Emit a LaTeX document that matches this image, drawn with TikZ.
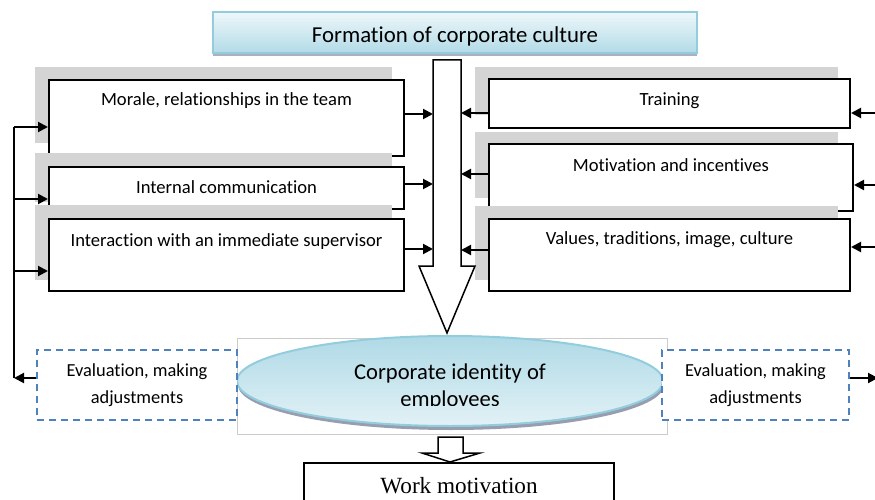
\documentclass[tikz,border=0pt]{standalone}
\usepackage{fontspec}
\setmainfont{Carlito}[Ligatures=NoCommon]
\newfontfamily\timesfont{Liberation Serif}
\usetikzlibrary{arrows.meta,shadows,shapes.geometric}

\definecolor{frameblue}{RGB}{147,205,221}
\definecolor{lightblue}{RGB}{178,219,231}
\definecolor{paleblue}{RGB}{238,247,250}
\definecolor{evalblue}{RGB}{79,129,189}
\definecolor{panelgray}{RGB}{212,212,212}
\definecolor{shadowgray}{RGB}{150,158,176}

\tikzset{
  box/.style={draw, line width=2pt, fill=white, inner xsep=4pt, inner ysep=0pt,
    anchor=north west, font=\fontsize{18.6}{22}\selectfont},
  panel/.style={fill=panelgray},
  conn/.style={line width=2pt, -{Triangle[length=10pt,width=10pt]}},
  evalbox/.style={draw=evalblue, line width=2.2pt, dash pattern=on 7pt off 5pt,
    fill=white, align=center, inner sep=0pt, minimum height=70pt,
    font=\fontsize{18.4}{27}\selectfont},
  hollow/.style={draw, line width=1.5pt, fill=white, line join=miter}
}

\begin{document}
\begin{tikzpicture}[x=1pt,y=-1pt]
  \useasboundingbox (0,0) rectangle (875,500);

  % heading
  \node[draw=frameblue, line width=2pt, top color=paleblue, bottom color=lightblue,
    minimum width=484pt, inner ysep=0pt, text height=31pt, text depth=10pt,
    font=\fontsize{22.8}{26}\selectfont,
    drop shadow={shadow xshift=0pt, shadow yshift=-3pt, fill=shadowgray, opacity=0.8}]
    (title) at (455,32.5) {Formation of corporate culture};

  % left column
  \fill[panel] (35,67) rectangle (392,143);
  \node[box, minimum width=355pt, text height=26pt, text depth=50pt] (m1) at (48,79)
    {Morale, relationships in the team};
  \fill[panel] (35,153) rectangle (392,202);
  \node[box, minimum width=355pt, text height=26pt, text depth=16pt] (m2) at (48,166)
    {Internal communication};
  \fill[panel] (35,205) rectangle (392,280);
  \node[box, minimum width=355pt, text height=27pt, text depth=45pt] (m3) at (48,218)
    {Interaction with an immediate supervisor};

  % right column
  \fill[panel] (475,67) rectangle (838,115);
  \node[box, minimum width=361pt, text height=27pt, text depth=22pt] (t1) at (488,78)
    {Training};
  \fill[panel] (475,132) rectangle (838,198);
  \node[box, minimum width=364pt, text height=27pt, text depth=40pt] (t2) at (488,143)
    {Motivation and incentives};
  \fill[panel] (475,206) rectangle (838,280);
  \node[box, minimum width=361pt, text height=25pt, text depth=47pt] (t3) at (488,218)
    {Values, traditions, image, culture};

  % big block arrow down the middle
  \coordinate (shaftL) at (433,60);
  \coordinate (shaftR) at (461,60);
  \draw[hollow] (shaftL) -- (shaftR) -- (461,266) -- (475,266) -- (447,333)
    -- (419,266) -- (433,266) -- cycle;

  \foreach \b/\s in {m1/4pt, m2/4pt, m3/6pt}
    \draw[conn] ([yshift=\s]\b.east) -- ([yshift=\s]\b.east -| shaftL);
  \foreach \b/\s in {t1/-9.5pt, t2/3.5pt, t3/5pt}
    \draw[conn] ([yshift=\s]\b.west) -- ([yshift=\s]\b.west -| shaftR);

  % inputs from the right edge
  \coordinate (rim) at (878,0);
  \foreach \b/\s in {t1/-9.5pt, t2/-7.5pt, t3/8pt}
    \draw[conn] ([yshift=\s]\b.east -| rim) -- ([yshift=\s]\b.east);

  % corporate identity
  \draw[gray!40, line width=0.8pt] (237,338) rectangle (667,434);
  \node[ellipse, draw=frameblue, line width=2pt, top color=lightblue!90!frameblue,
    bottom color=paleblue!80!lightblue, minimum width=426pt, minimum height=90pt,
    inner sep=0pt,
    drop shadow={shadow xshift=1pt, shadow yshift=-4pt, fill=shadowgray, opacity=1}]
    (ident) at (450,381) {};
  \begin{scope}
    \clip (237,338) rectangle (667,405);
    \node[align=center, font=\fontsize{22.6}{27}\selectfont] (idtext) at (450,386.5)
      {Corporate identity of\\employees};
  \end{scope}

  % evaluation boxes
  \node[evalbox, minimum width=200pt] (e1) at (137,385) {Evaluation, making\\adjustments};
  \node[evalbox, minimum width=187pt] (e2) at (755.5,385) {Evaluation, making\\adjustments};

  % feedback loop on the left
  \coordinate (fbtop) at (14,127);
  \coordinate (fbbot) at (14,378);
  \draw[line width=2pt] (fbtop) -- (fbbot);
  \draw[conn] ([yshift=7pt]e1.west) -- (fbbot);
  \draw[conn] (fbtop) -- (fbtop -| m1.west);
  \draw[conn] ([yshift=-11pt]m2.west -| fbtop) -- ([yshift=-11pt]m2.west);
  \draw[conn] ([yshift=-16pt]m3.west -| fbtop) -- ([yshift=-16pt]m3.west);

  \draw[conn] ([yshift=7pt]e2.east) -- ([yshift=7pt]e2.east -| rim);

  % result
  \draw[hollow] (438,437) -- (463,437) -- (463,453) -- (480,453) -- (450,462)
    -- (422,453) -- (438,453) -- cycle;
  \node[box, minimum width=310pt, text height=30pt, text depth=20pt,
    font=\timesfont\fontsize{23.2}{26}\selectfont] (work) at (303,462) {Work motivation};
\end{tikzpicture}
\end{document}
